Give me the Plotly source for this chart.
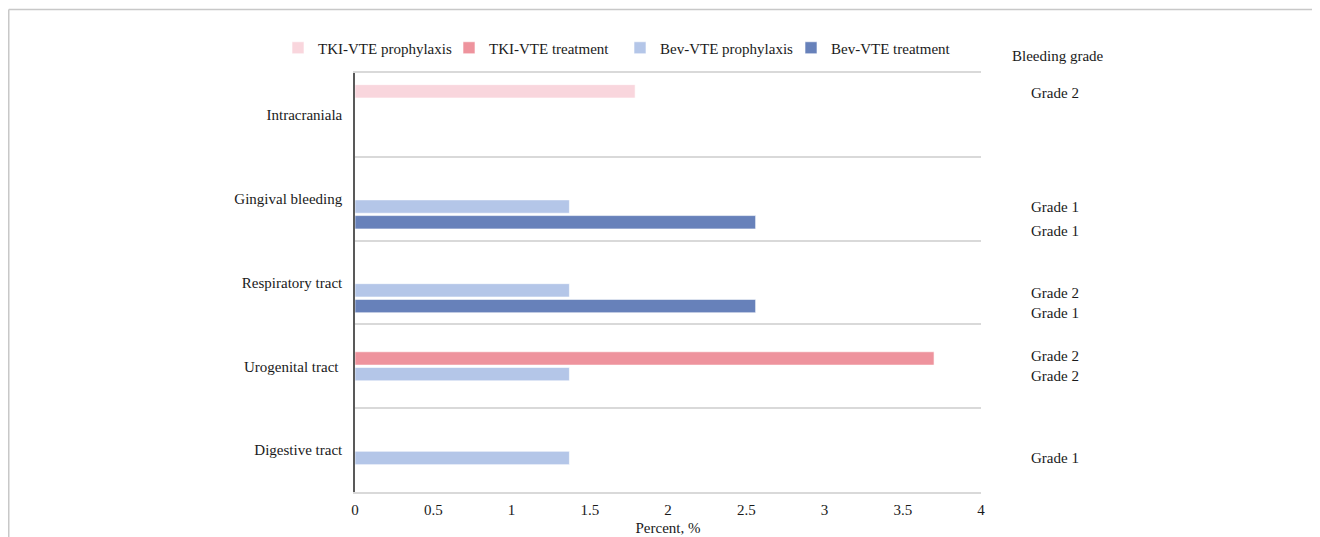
import plotly.graph_objects as go

categories = ["Intracraniala", "Gingival bleeding", "Respiratory tract", "Urogenital tract\u00a0", "Digestive tract"]
series_names = ["TKI-VTE prophylaxis", "TKI-VTE treatment", "Bev-VTE prophylaxis", "Bev-VTE treatment"]
tki_prophylaxis = [1.79, None, None, None, None]
tki_treatment = [None, None, None, 3.70, None]
bev_prophylaxis = [None, 1.37, 1.37, 1.37, 1.37]
bev_treatment = [None, 2.56, 2.56, None, None]
series_values = [tki_prophylaxis, tki_treatment, bev_prophylaxis, bev_treatment]
colors = ["#F9D6DD", "#EE939D", "#B4C6E8", "#6781BA"]

# bleeding grade labels: (category, label, vertical pixel offset)
grade_labels = [
    ("Intracraniala", "Grade 2", 22),
    ("Gingival bleeding", "Grade 1", -8),
    ("Gingival bleeding", "Grade 1", -32),
    ("Respiratory tract", "Grade 2", -10),
    ("Respiratory tract", "Grade 1", -30),
    ("Urogenital tract\u00a0", "Grade 2", 10),
    ("Urogenital tract\u00a0", "Grade 2", -10),
    ("Digestive tract", "Grade 1", -8),
]

FONT = "Liberation Serif, Times New Roman, serif"
TXT = "#1a1a1a"
FS = 15

fig = go.Figure()
for name, vals, col in zip(series_names, series_values, colors):
    fig.add_trace(go.Bar(
        y=categories, x=vals, name=name, orientation="h",
        marker=dict(color=col, line=dict(color="rgba(255,255,255,0.6)", width=1)),
    ))

W, H = 1320, 537
OFF = 8  # page offset of the figure
L, T = 355 - OFF, 73 - OFF
R = W - (981 - OFF)
B = H - (492 - OFF)
pw, ph = W - L - R, H - T - B

def px_x(px):
    return (px - OFF - L) / pw

def px_y(py):
    return 1 + (T - (py - OFF)) / ph

annotations = [dict(
    text="Bleeding grade", xref="paper", yref="paper",
    x=px_x(1010), y=px_y(56), xanchor="left", yanchor="middle",
    showarrow=False, font=dict(family=FONT, size=FS, color=TXT))]
for cat, lab, shift in grade_labels:
    annotations.append(dict(
        text=lab, xref="paper", yref="y", x=px_x(1029), y=cat, yshift=shift,
        xanchor="left", yanchor="middle", showarrow=False,
        font=dict(family=FONT, size=FS, color=TXT)))

shapes = [
    dict(type="line", xref="paper", yref="paper", x0=px_x(8.75), x1=px_x(1330), y0=px_y(9.5), y1=px_y(9.5),
         line=dict(color="#c8c8c8", width=1.5)),
    dict(type="line", xref="paper", yref="paper", x0=px_x(8.75), x1=px_x(8.75), y0=px_y(9.5), y1=px_y(545),
         line=dict(color="#c8c8c8", width=1.5)),
]

fig.update_layout(
    width=W, height=H,
    margin=dict(l=L, r=R, t=T, b=B, pad=0, autoexpand=False),
    paper_bgcolor="white", plot_bgcolor="white",
    barmode="group", bargap=0.25, bargroupgap=0.15,
    font=dict(family=FONT, size=FS, color=TXT),
    showlegend=True,
    legend=dict(orientation="h", x=px_x(278), y=px_y(48), xanchor="left", yanchor="middle",
                font=dict(family=FONT, size=FS, color=TXT), entrywidth=126, entrywidthmode="pixels",
                itemclick=False, bgcolor="rgba(0,0,0,0)"),
    xaxis=dict(range=[0, 4], dtick=0.5, showgrid=False, zeroline=False, automargin=False,
               showline=True, mirror=True, linecolor="#d9d9d9", linewidth=1.5,
               ticks="", ticklabelstandoff=3,
               title=dict(text="Percent, %", standoff=6, font=dict(family=FONT, size=FS, color=TXT)),
               tickfont=dict(family=FONT, size=FS, color=TXT)),
    yaxis=dict(type="category", autorange="reversed", tickson="boundaries", automargin=False,
               showgrid=True, gridcolor="#d9d9d9", gridwidth=1.5,
               showline=True, linecolor="#595959", linewidth=1.5, zeroline=False,
               ticks="", ticklabelstandoff=8, tickfont=dict(family=FONT, size=FS, color=TXT)),
    annotations=annotations,
    shapes=shapes,
)

fig.write_html("out.html")
